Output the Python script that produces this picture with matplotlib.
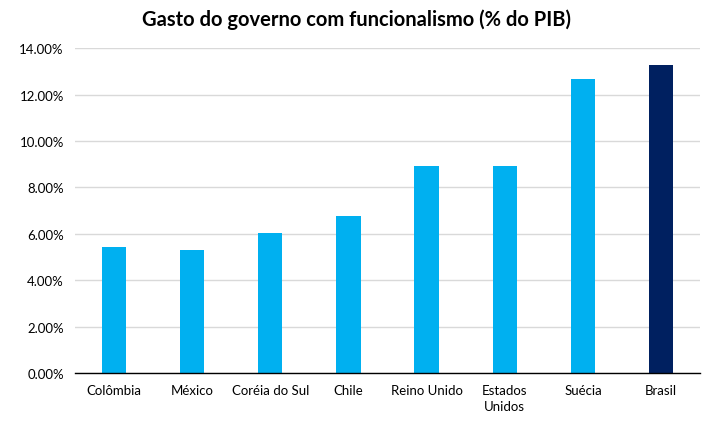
import matplotlib
matplotlib.use('Agg')
import matplotlib.pyplot as plt
from matplotlib.ticker import FuncFormatter

paises = ['Colômbia', 'México', 'Coréia do Sul', 'Chile', 'Reino Unido',
          'Estados\nUnidos', 'Suécia', 'Brasil']
gasto = [5.44, 5.31, 6.05, 6.77, 8.93, 8.93, 12.68, 13.28]
cores = ['#00B0F0'] * 7 + ['#002060']

plt.rcParams['font.family'] = ['Lato', 'DejaVu Sans']

fig = plt.figure(figsize=(7.13, 4.31), dpi=100)
ax = fig.add_axes([0.105, 0.132, 0.877, 0.754])

x = range(len(paises))
ax.bar(x, gasto, width=0.31, color=cores, zorder=3)

ax.set_ylim(0, 14)
ax.set_xlim(-0.5, len(paises) - 0.5)
ax.set_yticks([0, 2, 4, 6, 8, 10, 12, 14])
ax.yaxis.set_major_formatter(FuncFormatter(lambda v, p: '{:.2f}%'.format(v)))
ax.set_xticks(list(x))
ax.set_xticklabels(paises, fontsize=9.5, linespacing=1.4, va='top')
ax.tick_params(axis='y', labelsize=9.5, length=0, pad=8)
ax.tick_params(axis='x', length=0, pad=8)

ax.grid(axis='y', color='#D9D9D9', linewidth=1, zorder=0)
for s in ['top', 'right', 'left']:
    ax.spines[s].set_visible(False)
ax.spines['bottom'].set_color('black')
ax.spines['bottom'].set_linewidth(1)
ax.spines['bottom'].set_zorder(4)

fig.suptitle('Gasto do governo com funcionalismo (% do PIB)', fontsize=14.5,
             fontweight='bold', y=0.977)

plt.savefig('out.png', dpi=100)
